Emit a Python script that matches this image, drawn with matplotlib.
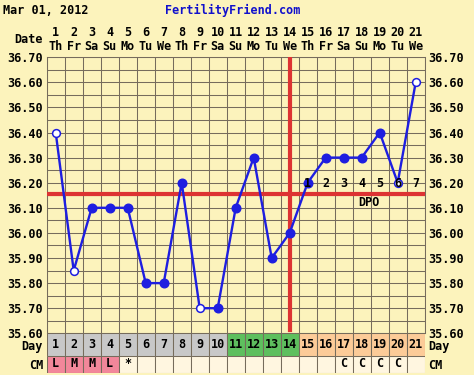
import matplotlib
matplotlib.use("Agg")
import matplotlib.pyplot as plt
from matplotlib.patches import Rectangle
import numpy as np

# ---- data ----
days = list(range(1, 22))
weekdays = ["Th", "Fr", "Sa", "Su", "Mo", "Tu", "We", "Th", "Fr", "Sa", "Su",
            "Mo", "Tu", "We", "Th", "Fr", "Sa", "Su", "Mo", "Tu", "We"]
temps = [36.40, 35.85, 36.10, 36.10, 36.10, 35.80, 35.80, 36.20, 35.70, 35.70,
         36.10, 36.30, 35.90, 36.00, 36.20, 36.30, 36.30, 36.30, 36.40, 36.20, 36.60]
open_marker = [True, True, False, False, False, False, False, False, True, False,
               False, False, False, False, False, False, False, False, False, True, True]
cm_labels = ["L", "M", "M", "L", "*", "", "", "", "", "", "",
             "", "", "", "", "", "C", "C", "C", "C", ""]
cm_colored = [True, True, True, True] + [False] * 17
phase = ["g"] * 10 + ["f"] * 4 + ["l"] * 7
dpo_labels = ["1", "2", "3", "4", "5", "6", "7"]
dpo_days = [15, 16, 17, 18, 19, 20, 21]
coverline = 36.155
ovulation_day = 14
ytick_vals = [35.60, 35.70, 35.80, 35.90, 36.00, 36.10, 36.20, 36.30, 36.40, 36.50, 36.60, 36.70]

# ---- style ----
W, H = 474, 375
BG = "#FCF3BC"
GRID = "#766C5C"
BLUE = "#1E1EE0"
RED = "#DD3333"
FONT = dict(family="DejaVu Sans Mono", weight="bold", size=8.5)
phase_colors = {"g": "#C8C8C8", "f": "#5EBF5E", "l": "#FCCB98"}
PINK = "#F2879A"
CREAM = "#FFF6E0"

fig = plt.figure(figsize=(W / 100, H / 100), dpi=100, facecolor=BG)

def px_axes(x0, y0, x1, y1):
    return fig.add_axes([x0 / W, 1 - y1 / H, (x1 - x0) / W, (y1 - y0) / H])

left, right = 46.7, 424.7
top, t_bot = 57.2, 333.3
day_bot, cm_bot = 356.0, 373.0

ax = px_axes(left, top, right, t_bot)
ax.set_facecolor(BG)
ax.set_xlim(0.5, 21.5)
ax.set_ylim(35.60, 36.70)
ax.set_xticks(np.arange(0.5, 22, 1), minor=False)
ax.set_yticks(ytick_vals)
ax.set_yticks(np.arange(35.65, 36.70, 0.1), minor=True)
ax.set_yticklabels([f"{v:.2f}" for v in ytick_vals], fontdict=FONT)
ax.tick_params(axis="x", length=0, labelbottom=False)
ax.tick_params(axis="y", which="both", length=0, pad=2.5, labelleft=True, labelright=True)
ax.grid(True, which="both", color=GRID, lw=0.75)
for s in ax.spines.values():
    s.set_color(GRID)
    s.set_linewidth(0.75)
ax.set_axisbelow(True)

# coverline and ovulation line
ax.axhline(coverline, color=RED, lw=3, zorder=3)
ax.axvline(ovulation_day, ymin=0.012, ymax=1, color=RED, lw=3, zorder=3)

# temperature line
ax.plot(days, temps, color=BLUE, lw=1.7, zorder=4)
for d, t, o in zip(days, temps, open_marker):
    if o:
        ax.plot(d, t, "o", ms=5.6, mfc="white", mec=BLUE, mew=1.1, zorder=5)
    else:
        ax.plot(d, t, "o", ms=6.2, mfc=BLUE, mec=BLUE, zorder=5)

# DPO labels
for d, lab in zip(dpo_days, dpo_labels):
    ax.text(d, 36.195, lab, ha="center", va="center", zorder=6, **FONT)
ax.text(18.4, 36.122, "DPO", ha="center", va="center", zorder=6, **FONT)

# Day row
axd = px_axes(left, t_bot, right, day_bot)
axd.set_xlim(0.5, 21.5)
axd.set_ylim(0, 1)
for d, p in zip(days, phase):
    axd.add_patch(Rectangle((d - 0.5, 0), 1, 1, facecolor=phase_colors[p],
                            edgecolor=GRID, lw=0.75))
    axd.text(d, 0.5, str(d), ha="center", va="center", **FONT)
axd.axis("off")

# CM row
axc = px_axes(left, day_bot, right, cm_bot)
axc.set_xlim(0.5, 21.5)
axc.set_ylim(0, 1)
for d, lab, c in zip(days, cm_labels, cm_colored):
    axc.add_patch(Rectangle((d - 0.5, 0), 1, 1, facecolor=PINK if c else CREAM,
                            edgecolor=GRID, lw=0.75))
    if lab:
        axc.text(d, 0.55, lab, ha="center", va="center", **FONT)
axc.axis("off")

# header texts
def xpix(d):
    return left + (d - 0.5) * 18.0

for d, wd in zip(days, weekdays):
    fig.text(xpix(d) / W, 1 - 33 / H, str(d), ha="center", va="center", **FONT)
    fig.text(xpix(d) / W, 1 - 46 / H, wd, ha="center", va="center", **FONT)
fig.text(43 / W, 1 - 39.5 / H, "Date", ha="right", va="center", **FONT)
fig.text(3 / W, 1 - 10 / H, "Mar 01, 2012", ha="left", va="center", **FONT)
fig.text(233 / W, 1 - 10 / H, "FertilityFriend.com", ha="center", va="center",
         color="#1010CC", **FONT)

# row labels
for y, lab in [(346.5, "Day"), (365.5, "CM")]:
    fig.text(43 / W, 1 - y / H, lab, ha="right", va="center", **FONT)
    fig.text(428.5 / W, 1 - y / H, lab, ha="left", va="center", **FONT)

fig.savefig("out.png", dpi=100, facecolor=BG)
